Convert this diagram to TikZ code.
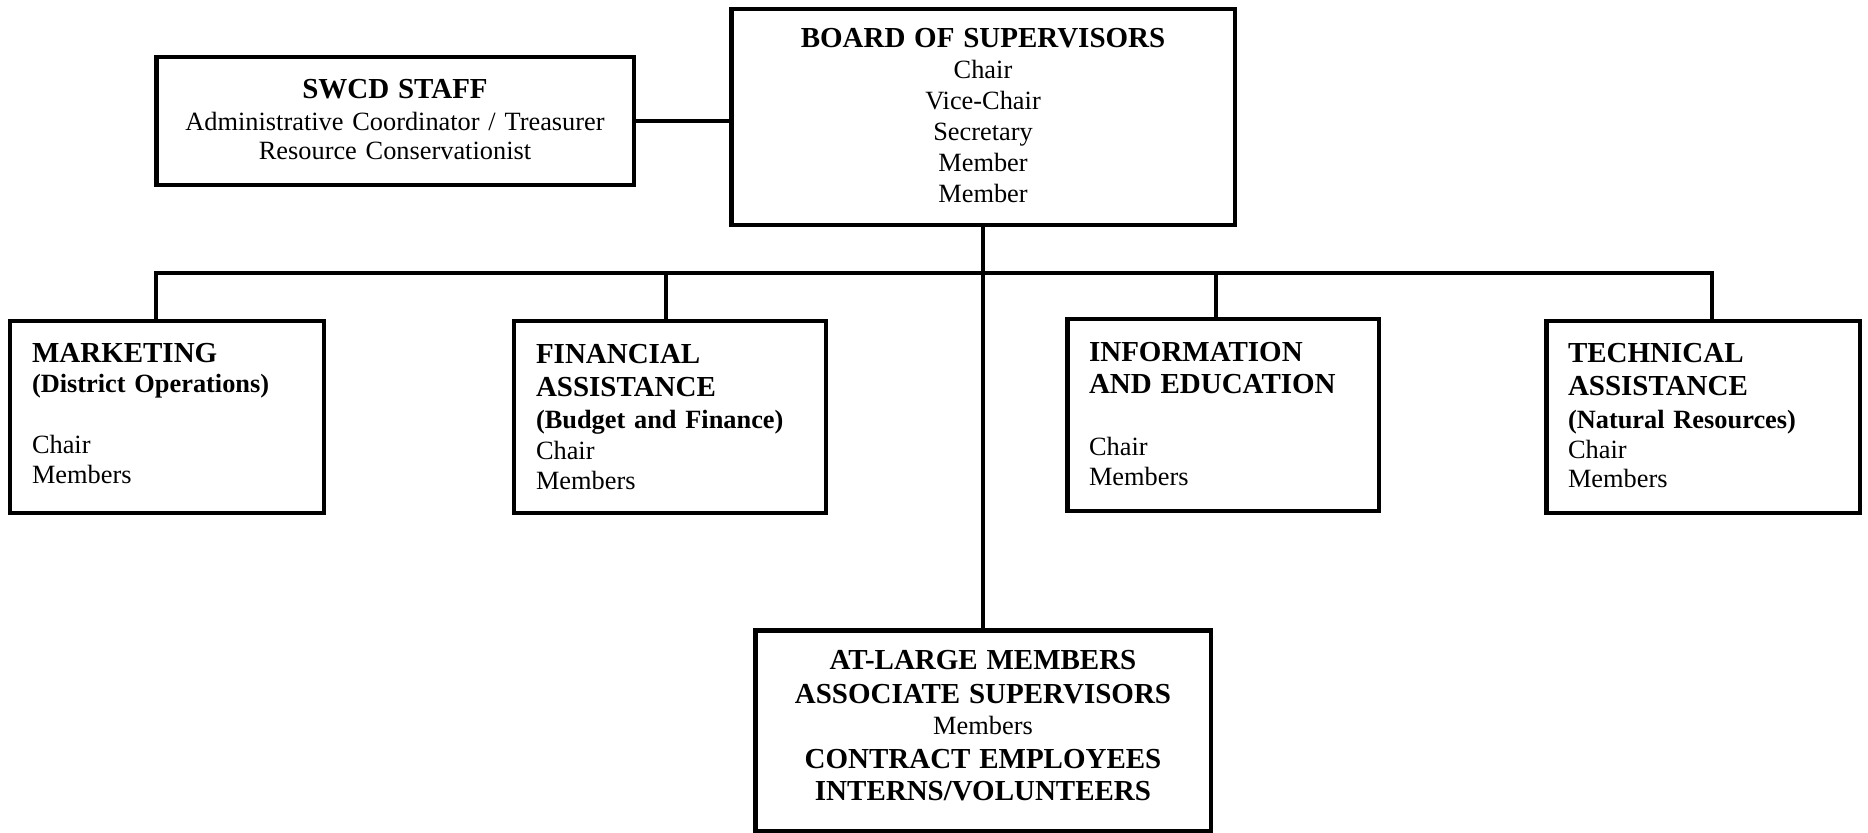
\documentclass[tikz,border=0pt]{standalone}
\usepackage{fontspec}
\setmainfont{Liberation Serif}
\usetikzlibrary{positioning}
\tikzset{>=stealth}
\newcommand{\hd}[1]{{\fontsize{16.5}{19}\selectfont\bfseries #1}}
\tikzset{
  orgbox/.style={draw, line width=2.8pt, inner sep=0pt, align=center, font=\fontsize{15}{17}\selectfont,
    execute at end node={\par\vspace{#1}}},
  orgbox/.default=1.5pt,
  leftbox/.style={orgbox=#1, align=left, inner xsep=0.44cm, minimum height=3.84cm},
  leftbox/.default=1.5pt,
  link/.style={line width=2.3pt}
}

\begin{document}
\begin{tikzpicture}[x=0.02cm, y=-0.02cm]
    \useasboundingbox (0,0) rectangle (1868,832);
    % top row
    \node[orgbox, font=\fontsize{15}{17.6}\selectfont, text width=10.08cm, minimum height=4.32cm] at (983,117) (board) {\hd{BOARD OF SUPERVISORS}\\ Chair\\ Vice-Chair\\ Secretary\\ Member\\ Member};
    \node[orgbox, text width=9.56cm, minimum height=2.56cm] at (395,121) (staff) {\hd{SWCD STAFF}\\[1pt] Administrative Coordinator / Treasurer\\ Resource Conservationist};
    % committees
    \node[leftbox=4pt, text width=5.4cm] at (167,417) (mkt) {\hd{MARKETING}\\ \textbf{(District Operations)}\\[17.6pt] Chair\\ Members};
    \node[leftbox=0pt, text width=5.36cm] at (670,417) (fin) {\hd{FINANCIAL}\\[1.7pt] \hd{ASSISTANCE}\\[1.7pt] \textbf{(Budget and Finance)}\\[0.6pt] Chair\\ Members};
    \node[leftbox, text width=5.36cm] at (1223,415) (info) {\hd{INFORMATION}\\[1.7pt] \hd{AND EDUCATION}\\[18pt] Chair\\ Members};
    \node[leftbox, text width=5.4cm] at (1703,417) (tech) {\hd{TECHNICAL}\\[1.7pt] \hd{ASSISTANCE}\\[1.7pt] \textbf{(Natural Resources)}\\ Chair\\ Members};
    % bottom
    \node[orgbox=6pt, text width=9.12cm, minimum height=4.02cm] at (983,731) (atlarge) {\hd{AT-LARGE MEMBERS}\\[2.3pt] \hd{ASSOCIATE SUPERVISORS}\\[0.6pt] Members\\[2.3pt] \hd{CONTRACT EMPLOYEES}\\[1.7pt] \hd{INTERNS/VOLUNTEERS}};
    % connectors
    \coordinate (busL) at (156,273);
    \coordinate (busR) at (1712,273);
    \coordinate (jFin) at (666,273);
    \coordinate (jInfo) at (1216,273);
    \draw[link] (staff.east) -- (staff.east -| board.west);
    \draw[link] (busL |- mkt.north) -- (busL) -- (busR) -- (busR |- tech.north);
    \draw[link] (jFin) -- (jFin |- fin.north);
    \draw[link] (jInfo) -- (jInfo |- info.north);
    \draw[link] (board.south) -- (atlarge.north);
\end{tikzpicture}
\end{document}
